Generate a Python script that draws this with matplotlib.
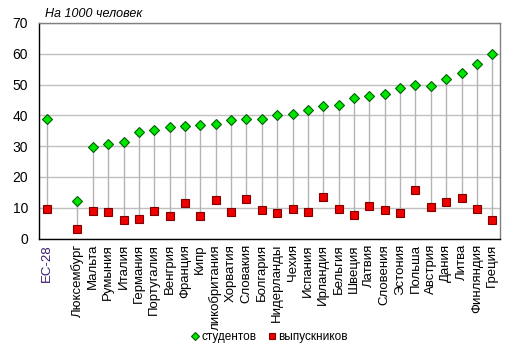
import matplotlib
matplotlib.use("Agg")
import matplotlib.pyplot as plt
import numpy as np

plt.rcParams['font.family'] = ['Liberation Sans', 'DejaVu Sans']

# the UK label is shown cut off in the reference
categories = ["ЕС-28", "", "Люксембург", "Мальта", "Румыния", "Италия", "Германия",
              "Португалия", "Венгрия", "Франция", "Кипр", "ликобритания", "Хорватия",
              "Словакия", "Болгария", "Нидерланды", "Чехия", "Испания", "Ирландия",
              "Бельгия", "Швеция", "Латвия", "Словения", "Эстония", "Польша", "Австрия",
              "Дания", "Литва", "Финляндия", "Греция"]
students = [38.7, np.nan, 12.2, 29.7, 30.6, 31.2, 34.5, 35.2, 36.1, 36.5, 36.8, 37.2,
            38.6, 38.9, 38.8, 40.0, 40.3, 41.9, 43.2, 43.4, 45.5, 46.4, 47.0, 48.8,
            49.7, 49.6, 51.7, 53.6, 56.6, 59.8]
graduates = [9.6, np.nan, 3.1, 8.9, 8.6, 6.0, 6.3, 8.9, 7.3, 11.6, 7.3, 12.5, 8.6,
             12.8, 9.3, 8.4, 9.6, 8.7, 13.6, 9.6, 7.6, 10.6, 9.3, 8.4, 15.7, 10.2,
             11.9, 13.1, 9.6, 6.0]
series_names = ["студентов", "выпускников"]
yticks = [0, 10, 20, 30, 40, 50, 60, 70]

W, H = 516, 354
fig = plt.figure(figsize=(W/100, H/100), dpi=100)
ax = fig.add_axes([39/W, 1-238.5/H, 461/W, 215.5/H])

x = np.arange(len(categories))
s = np.array(students, dtype=float)
g = np.array(graduates, dtype=float)

for xi, a, b in zip(x, s, g):
    if not (np.isnan(a) or np.isnan(b)):
        ax.plot([xi, xi], [b, a], color='#b4b4b4', lw=1.0, zorder=2)

ax.plot(x, s, linestyle='none', marker='D', ms=5.3, mfc='#00e600', mec='#006000',
        mew=0.8, zorder=4, label=series_names[0])
ax.plot(x, g, linestyle='none', marker='s', ms=5.6, mfc='#ee0000', mec='#800000',
        mew=0.8, zorder=4, label=series_names[1])

ax.set_xlim(-0.5, len(categories) - 0.5)
ax.set_ylim(0, 70)
ax.set_yticks(yticks)
ax.set_yticklabels([str(v) for v in yticks], fontsize=10)
ax.yaxis.grid(True, color='#c0c0c0', lw=1.0, zorder=0)
ax.set_axisbelow(True)
ax.set_xticks(x)
ax.set_xticklabels(categories, rotation=90, fontsize=9.5)
ax.tick_params(axis='both', length=0, pad=4)
ax.tick_params(axis='y', pad=8)
labels = ax.get_xticklabels()
for lab in labels:
    lab.set_color('#000000')
labels[0].set_color('#3a1a6e')

ax.spines['left'].set_color('black')
ax.spines['bottom'].set_color('black')
ax.spines['top'].set_color('#808080')
ax.spines['right'].set_color('#808080')
for sp in ax.spines.values():
    sp.set_linewidth(1.0)

fig.text(45/W, 1-14/H, "На 1000 человек", fontsize=9, style='italic',
         va='center', ha='left')

leg = fig.legend(loc='center', bbox_to_anchor=(270/W, 1-337/H), ncol=2,
                 frameon=False, fontsize=8.5, markerscale=0.75, handlelength=0.5,
                 handletextpad=0.3, columnspacing=1.0)

fig.savefig("out.png", dpi=100)
